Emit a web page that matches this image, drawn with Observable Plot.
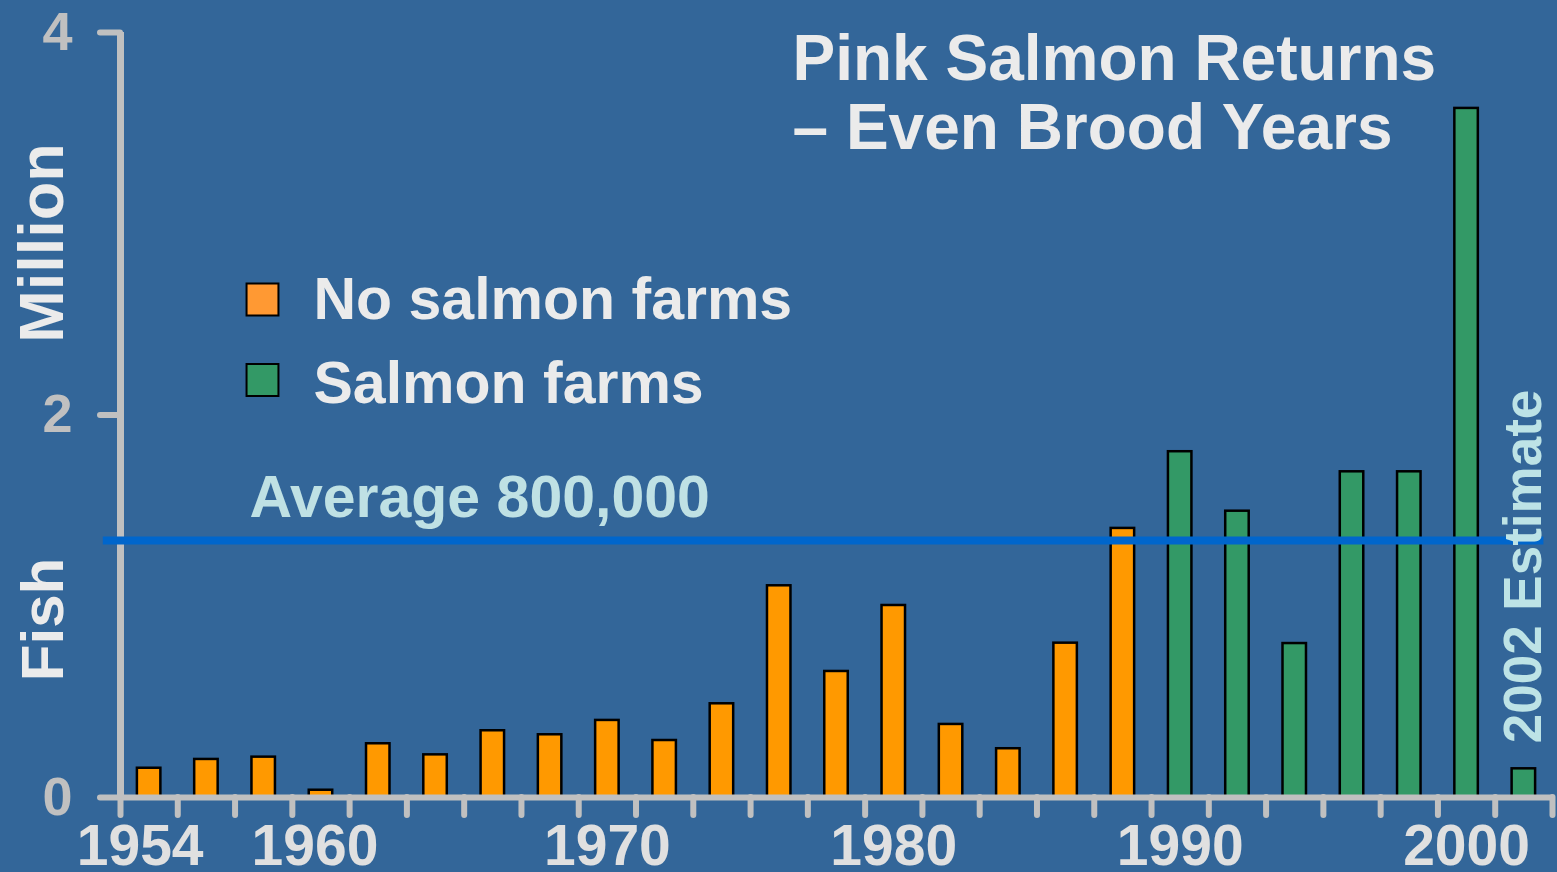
<!DOCTYPE html>
<html>
<head>
<meta charset="utf-8">
<script src="https://cdn.jsdelivr.net/npm/d3@7"></script>
<script src="https://cdn.jsdelivr.net/npm/@observablehq/plot@0.6"></script>
<style>
  html, body { margin: 0; padding: 0; background: #336699; overflow: hidden; }
  #chart svg { display: block; }
</style>
</head>
<body>
<div id="chart"></div>
<script>
// ---- data ----
const years = [1954, 1956, 1958, 1960, 1962, 1964, 1966, 1968, 1970, 1972, 1974, 1976, 1978,
               1980, 1982, 1984, 1986, 1988, 1990, 1992, 1994, 1996, 1998, 2000, 2002];
const returnsMillions = [0.153, 0.199, 0.211, 0.038, 0.281, 0.223, 0.349, 0.328, 0.403, 0.298, 0.49, 1.107, 0.659,
                         1.004, 0.382, 0.255, 0.807, 1.407, 1.808, 1.497, 0.805, 1.703, 1.703, 3.603, 0.15];
const farmGroups = ["No salmon farms", "Salmon farms"];
const firstFarmYear = 1990;
const averageMillions = 1.344;
const averageLabel = "Average 800,000";
const estimateYear = 2002;
const estimateLabel = "2002 Estimate";
const yTicks = [0, 2, 4];
const xLabelYears = [1954, 1960, 1970, 1980, 1990, 2000];
const xTickYears = [1953, 1955, 1957, 1959, 1961, 1963, 1965, 1967, 1969, 1971, 1973, 1975, 1977,
                    1979, 1981, 1983, 1985, 1987, 1989, 1991, 1993, 1995, 1997, 1999, 2001, 2003];
const xDomain = [1953, 2003];
const yDomain = [0, 4];
const titleText = "Pink Salmon Returns\n– Even Brood Years";
const yLabelTop = "Million";
const yLabelBottom = "Fish";

// ---- build table ----
const data = years.map((year, i) => ({
  year,
  value: returnsMillions[i],
  group: year >= firstFarmYear ? farmGroups[1] : farmGroups[0]
}));

const font = "'Liberation Sans', Arial, Helvetica, sans-serif";
const axisGray = "#c0c0c0";
const textWhite = "#ebebeb";
const cyanText = "#bfe1e4";
const barColors = ["#FF9900", "#339966"];
const legendColors = ["#FF9933", "#339966"];
const legendSquareDy = [267, 347.5];
const legendTextDy = [286, 370];
// small horizontal nudges of the first two year labels, as in the original slide
const xLabelNudge = [-9, -6, 0, 0, 0, 0];

const legendMarks = farmGroups.flatMap((g, i) => [
  Plot.dot([g], {frameAnchor: "top-left", dx: 142, dy: legendSquareDy[i], symbol: "square", r: 18,
                 fill: legendColors[i], stroke: "#000", strokeWidth: 2}),
  Plot.text([g], {frameAnchor: "top-left", dx: 193, dy: legendTextDy[i], text: d => d,
                  textAnchor: "start", lineAnchor: "bottom", fontSize: 59, fontWeight: "bold", fill: textWhite})
]);

const xLabelMarks = xLabelYears.map((yr, i) =>
  Plot.axisX({ticks: [yr], tickSize: 0, tickPadding: 27, tickFormat: d => String(d), dx: xLabelNudge[i],
              fontSize: 57, fontWeight: "bold", fill: "#e0e0e0", label: null})
);

const chart = Plot.plot({
  width: 1557,
  height: 872,
  marginTop: 32,
  marginBottom: 75,
  marginLeft: 120,
  marginRight: 5,
  style: {background: "#336699", fontFamily: font, overflow: "visible"},
  x: {domain: xDomain, axis: null, label: null},
  y: {domain: yDomain, axis: null, label: null},
  color: {domain: farmGroups, range: barColors},
  marks: [
    Plot.rect(data, {x1: d => d.year - 0.41, x2: d => d.year + 0.41, y1: 0, y2: "value",
                     fill: "group", stroke: "#000", strokeWidth: 2.5}),
    Plot.ruleX([xDomain[0]], {stroke: axisGray, strokeWidth: 7}),
    Plot.ruleY([0], {stroke: axisGray, strokeWidth: 6}),
    Plot.axisX({ticks: xTickYears, tickSize: 18, tickFormat: () => "", stroke: axisGray, fill: "none",
                strokeWidth: 6, strokeLinecap: "round", label: null}),
    ...xLabelMarks,
    Plot.axisY({ticks: yTicks, tickSize: 20, tickPadding: 28, tickFormat: d => String(d),
                fontSize: 54, fontWeight: "bold", stroke: axisGray, fill: axisGray,
                strokeWidth: 6, strokeLinecap: "round", label: null}),
    Plot.ruleY([averageMillions], {x1: 1952.4, x2: 2002.7, stroke: "#0066CC", strokeWidth: 8}),
    Plot.text([averageLabel], {x: xDomain[0], y: averageMillions, dx: 129, dy: -23, text: d => d,
                               textAnchor: "start", lineAnchor: "bottom", fontSize: 59, fontWeight: "bold", fill: cyanText}),
    Plot.text([estimateLabel], {x: [estimateYear], dx: 17.6, dy: 151.5, text: d => d, rotate: -90,
                                textAnchor: "middle", lineAnchor: "bottom", fontSize: 53, fontWeight: "bold", fill: "#bde3e6"}),
    Plot.text([titleText], {frameAnchor: "top-left", dx: 672, dy: 116, text: d => d, textAnchor: "start",
                            lineAnchor: "bottom", lineHeight: 1.07, fontSize: 64, fontWeight: "bold", fill: textWhite}),
    Plot.text([yLabelTop], {frameAnchor: "top-left", dx: -58, dy: 210.5, text: d => d, rotate: -90,
                            textAnchor: "middle", lineAnchor: "bottom", fontSize: 63, fontWeight: "bold", fill: textWhite}),
    Plot.text([yLabelBottom], {frameAnchor: "top-left", dx: -58, dy: 587, text: d => d, rotate: -90,
                               textAnchor: "middle", lineAnchor: "bottom", fontSize: 60, fontWeight: "bold", fill: textWhite}),
    ...legendMarks
  ]
});

document.getElementById("chart").append(chart);
</script>
</body>
</html>
